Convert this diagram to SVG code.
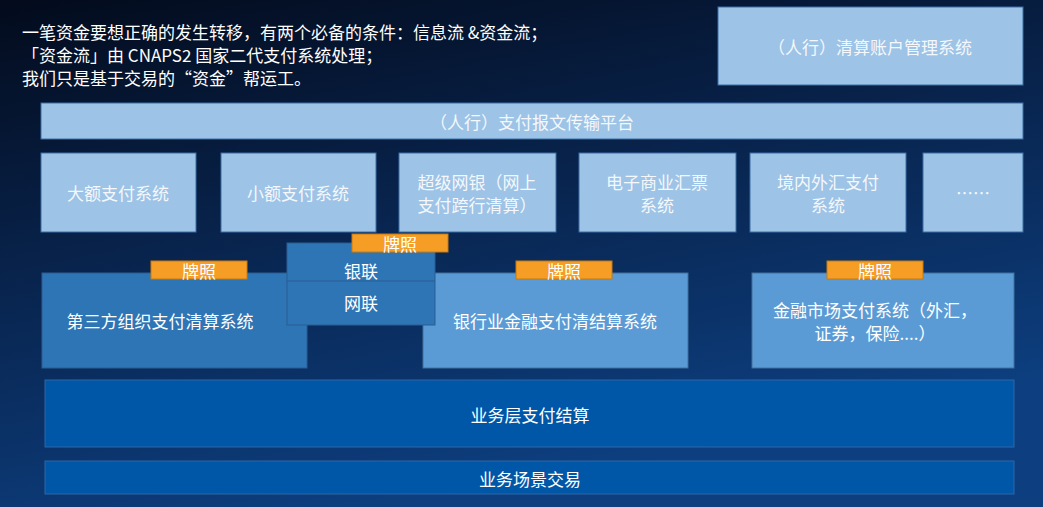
<svg xmlns="http://www.w3.org/2000/svg" width="1043" height="507" viewBox="0 0 1043 507">
<defs>
<linearGradient id="bg" x1="0" y1="0" x2="0.4" y2="1">
<stop offset="0" stop-color="#030b1c"/>
<stop offset="0.45" stop-color="#08224a"/>
<stop offset="1" stop-color="#0d3f80"/>
</linearGradient>
<style>
text{font-family:"Noto Sans CJK SC","Liberation Sans",sans-serif;fill:#fff;text-anchor:middle;dominant-baseline:central;font-size:17px}
.lt{fill:#9dc3e6;stroke:#3b6ea5;stroke-width:1}
.lt2{fill:#5b9bd5;stroke:#41719c;stroke-width:1}
.md{fill:#2e75b6;stroke:#2b5f92;stroke-width:1}
.dk{fill:#0057a8;stroke:#2f66a6;stroke-width:1}
.or{fill:#f59d24;stroke:#c77a10;stroke-width:1}
.ltx{fill:#f4f8fc}
.hd{text-anchor:start;dominant-baseline:auto;font-size:17px}
</style>
</defs>
<rect width="1043" height="507" fill="url(#bg)"/>
<g id="intro">
<text class="hd" x="22" y="39">一笔资金要想正确的发生转移，有两个必备的条件：信息流 &amp;资金流；</text>
<text class="hd" x="22" y="62">「资金流」由 CNAPS2 国家二代支付系统处理；</text>
<text class="hd" x="22" y="85">我们只是基于交易的“资金”帮运工。</text>
</g>
<g id="acct"><rect class="lt" x="718" y="7" width="305" height="78"/><text class="ltx" x="870" y="46">（人行）清算账户管理系统</text></g>
<g id="platform"><rect class="lt" x="41" y="103" width="982" height="36"/><text class="ltx" x="532" y="121">（人行）支付报文传输平台</text></g>
<g id="s1"><rect class="lt" x="41" y="153" width="155" height="79"/><text class="ltx" x="118" y="192">大额支付系统</text></g>
<g id="s2"><rect class="lt" x="221" y="153" width="155" height="79"/><text class="ltx" x="298" y="192">小额支付系统</text></g>
<g id="s3"><rect class="lt" x="399" y="153" width="157" height="79"/><text class="ltx" x="477" y="181">超级网银（网上</text><text class="ltx" x="477" y="204">支付跨行清算）</text></g>
<g id="s4"><rect class="lt" x="579" y="153" width="157" height="79"/><text class="ltx" x="657" y="181">电子商业汇票</text><text class="ltx" x="657" y="204">系统</text></g>
<g id="s5"><rect class="lt" x="750" y="153" width="156" height="79"/><text class="ltx" x="828" y="181">境内外汇支付</text><text class="ltx" x="828" y="204">系统</text></g>
<g id="s6"><rect class="lt" x="923" y="153" width="100" height="79"/><text class="ltx" x="973" y="192">……</text></g>
<g id="third"><rect class="md" x="42" y="273" width="265" height="95"/><text x="160" y="320">第三方组织支付清算系统</text></g>
<g id="bank"><rect class="lt2" x="423" y="273" width="265" height="95"/><text x="555" y="320">银行业金融支付清结算系统</text></g>
<g id="market"><rect class="lt2" x="752" y="273" width="262" height="95"/><text x="875" y="309">金融市场支付系统（外汇，</text><text x="875" y="332">证券，保险....）</text></g>
<g id="union"><rect class="md" x="287" y="243" width="148" height="82"/><line x1="287" y1="281" x2="435" y2="281" stroke="#2b5f92"/><text x="361" y="270">银联</text><text x="361" y="302">网联</text></g>
<g id="lic1"><rect class="or" x="151" y="261" width="96" height="18"/><text x="199" y="270" font-size="16">牌照</text></g>
<g id="lic2"><rect class="or" x="352" y="234" width="96" height="18"/><text x="400" y="243" font-size="16">牌照</text></g>
<g id="lic3"><rect class="or" x="516" y="261" width="96" height="18"/><text x="564" y="270" font-size="16">牌照</text></g>
<g id="lic4"><rect class="or" x="827" y="261" width="96" height="18"/><text x="875" y="270" font-size="16">牌照</text></g>
<g id="biz"><rect class="dk" x="45" y="380" width="969" height="67"/><text x="530" y="414">业务层支付结算</text></g>
<g id="scene"><rect class="dk" x="45" y="461" width="969" height="33"/><text x="530" y="478">业务场景交易</text></g>
<g id="connectors"/>
</svg>
